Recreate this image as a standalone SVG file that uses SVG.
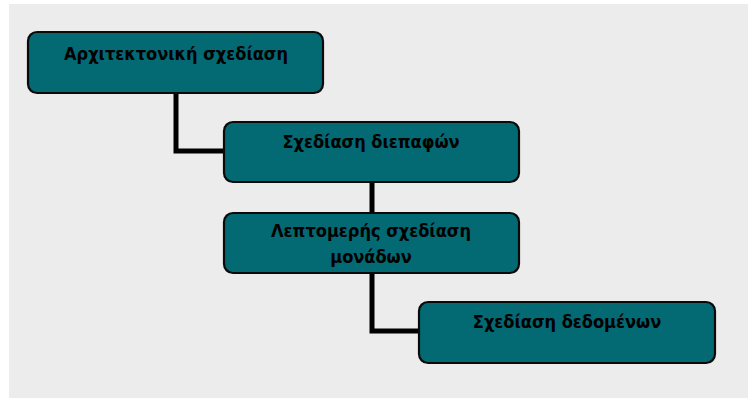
<svg xmlns="http://www.w3.org/2000/svg" width="748" height="398" viewBox="0 0 748 398">
  <style>
    .box { fill: #036973; stroke: #0a0a0a; stroke-width: 2.2; }
    .label { font-family: "DejaVu Sans Condensed", "DejaVu Sans", "Noto Sans", sans-serif; font-stretch: condensed; font-size: 18px; font-weight: bold; fill: #000; text-anchor: middle; }
    .link { fill: none; stroke: #000; stroke-width: 5; }
  </style>
  <rect x="0" y="0" width="748" height="398" fill="#ffffff"/>
  <rect x="9" y="4" width="739" height="394" fill="#ececec"/>

  <g id="connectors">
    <path class="link" d="M176 93 V151 H224"/>
    <path class="link" d="M372 182 V213"/>
    <path class="link" d="M372 273 V331 H419"/>
  </g>

  <g id="architectural-design">
    <rect class="box" x="28" y="32" width="295" height="61" rx="9"/>
    <text class="label" x="176" y="60">Αρχιτεκτονική σχεδίαση</text>
  </g>

  <g id="interface-design">
    <rect class="box" x="224" y="122" width="295" height="60" rx="9"/>
    <text class="label" x="371" y="148">Σχεδίαση διεπαφών</text>
  </g>

  <g id="detailed-unit-design">
    <rect class="box" x="224" y="213" width="295" height="60" rx="9"/>
    <text class="label" x="371" y="237">Λεπτομερής σχεδίαση</text>
    <text class="label" x="371" y="263">μονάδων</text>
  </g>

  <g id="data-design">
    <rect class="box" x="419" y="302" width="296" height="61" rx="9"/>
    <text class="label" x="567" y="328">Σχεδίαση δεδομένων</text>
  </g>
</svg>
